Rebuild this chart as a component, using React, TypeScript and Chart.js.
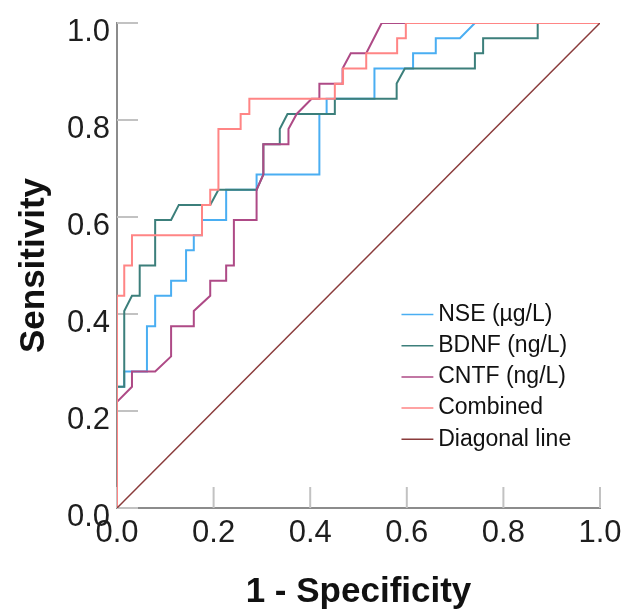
import React, { useEffect, useRef } from "react";
import { Chart, registerables } from "chart.js";

Chart.register(...registerables);

// ---- Data ----
const seriesNames = ["NSE (µg/L)", "BDNF (ng/L)", "CNTF (ng/L)", "Combined", "Diagonal line"];
const seriesColors = ["#4AAEF2", "#3C7F7B", "#AE4A86", "#FF8585", "#8A3B3B"];

const nseFpr = [0, 0, 0.015, 0.015, 0.062, 0.062, 0.079, 0.079, 0.112, 0.112, 0.143, 0.143, 0.159, 0.159, 0.176, 0.176, 0.226, 0.226, 0.289, 0.289, 0.419, 0.419, 0.434, 0.434, 0.533, 0.533, 0.613, 0.613, 0.66, 0.66, 0.71, 0.741, 1];
const nseTpr = [0, 0.25, 0.25, 0.28125, 0.28125, 0.375, 0.375, 0.4375, 0.4375, 0.46875, 0.46875, 0.53125, 0.53125, 0.5625, 0.5625, 0.59375, 0.59375, 0.65625, 0.65625, 0.6875, 0.6875, 0.8125, 0.8125, 0.84375, 0.84375, 0.90625, 0.90625, 0.9375, 0.9375, 0.96875, 0.96875, 1, 1];

const bdnfFpr = [0, 0, 0.015, 0.015, 0.031, 0.047, 0.047, 0.079, 0.079, 0.112, 0.128, 0.193, 0.21, 0.289, 0.303, 0.303, 0.337, 0.337, 0.353, 0.451, 0.451, 0.579, 0.579, 0.596, 0.741, 0.741, 0.758, 0.758, 0.871, 0.871, 1];
const bdnfTpr = [0, 0.25, 0.25, 0.40625, 0.4375, 0.4375, 0.5, 0.5, 0.59375, 0.59375, 0.625, 0.625, 0.65625, 0.65625, 0.6875, 0.75, 0.75, 0.78125, 0.8125, 0.8125, 0.84375, 0.84375, 0.875, 0.90625, 0.90625, 0.9375, 0.9375, 0.96875, 0.96875, 1, 1];

const cntfFpr = [0, 0, 0.031, 0.031, 0.079, 0.112, 0.112, 0.159, 0.159, 0.193, 0.193, 0.226, 0.226, 0.242, 0.242, 0.289, 0.289, 0.303, 0.303, 0.355, 0.355, 0.372, 0.403, 0.419, 0.419, 0.467, 0.467, 0.484, 0.516, 0.548, 1];
const cntfTpr = [0, 0.21875, 0.25, 0.28125, 0.28125, 0.3125, 0.375, 0.375, 0.40625, 0.4375, 0.46875, 0.46875, 0.5, 0.5, 0.59375, 0.59375, 0.65625, 0.6875, 0.75, 0.75, 0.78125, 0.8125, 0.84375, 0.84375, 0.875, 0.875, 0.90625, 0.9375, 0.9375, 1, 1];

const combFpr = [0, 0, 0.015, 0.015, 0.031, 0.031, 0.176, 0.176, 0.193, 0.193, 0.21, 0.21, 0.256, 0.256, 0.274, 0.274, 0.451, 0.451, 0.468, 0.468, 0.516, 0.516, 0.58, 0.58, 0.598, 0.598, 1];
const combTpr = [0, 0.4375, 0.4375, 0.5, 0.5, 0.5625, 0.5625, 0.625, 0.625, 0.65625, 0.65625, 0.78125, 0.78125, 0.8125, 0.8125, 0.84375, 0.84375, 0.875, 0.875, 0.90625, 0.90625, 0.9375, 0.9375, 0.96875, 0.96875, 1, 1];

const diagFpr = [0, 1];
const diagTpr = [0, 1];

const tickValues = [0, 0.2, 0.4, 0.6, 0.8, 1.0];
const xTitle = "1 - Specificity";
const yTitle = "Sensitivity";

const FONT = '"Liberation Sans", Arial, Helvetica, sans-serif';

const toPoints = (xs: number[], ys: number[]) => xs.map((x, i) => ({ x, y: ys[i] }));

const tickMarks = {
  id: "tickMarks",
  beforeDatasetsDraw(chart: any) {
    const { ctx, chartArea, scales } = chart;
    const x = scales.x;
    const y = scales.y;
    ctx.save();
    ctx.strokeStyle = "#c2c2c2";
    ctx.lineWidth = 2;
    tickValues.forEach((v) => {
      const px = x.getPixelForValue(v);
      ctx.beginPath();
      ctx.moveTo(px, chartArea.bottom);
      ctx.lineTo(px, chartArea.bottom - 21);
      ctx.stroke();
      const py = y.getPixelForValue(v);
      ctx.beginPath();
      ctx.moveTo(chartArea.left, py);
      ctx.lineTo(chartArea.left + 21, py);
      ctx.stroke();
    });
    ctx.restore();
  },
};

const customLegend = {
  id: "customLegend",
  afterDraw(chart: any) {
    const { ctx, scales } = chart;
    const x = scales.x;
    const y = scales.y;
    const lineX0 = x.getPixelForValue(0.589);
    const lineX1 = x.getPixelForValue(0.655);
    const textX = x.getPixelForValue(0.665);
    const y0 = y.getPixelForValue(0.399);
    const rowH = 31.2;
    ctx.save();
    ctx.font = `23px ${FONT}`;
    ctx.textBaseline = "middle";
    ctx.textAlign = "left";
    seriesNames.forEach((name, i) => {
      const py = y0 + i * rowH;
      ctx.strokeStyle = seriesColors[i];
      ctx.lineWidth = 1.5;
      ctx.beginPath();
      ctx.moveTo(lineX0, py);
      ctx.lineTo(lineX1, py);
      ctx.stroke();
      ctx.fillStyle = "#111111";
      ctx.fillText(name, textX, py);
    });
    ctx.restore();
  },
};

export default function App() {
  const canvasRef = useRef<HTMLCanvasElement | null>(null);

  useEffect(() => {
    if (!canvasRef.current) return;
    const series = [
      toPoints(nseFpr, nseTpr),
      toPoints(bdnfFpr, bdnfTpr),
      toPoints(cntfFpr, cntfTpr),
      toPoints(combFpr, combTpr),
      toPoints(diagFpr, diagTpr),
    ];
    const orders = [4, 3, 2, 1, 0];
    const chart = new Chart(canvasRef.current, {
      type: "line",
      data: {
        datasets: series.map((data, i) => ({
          label: seriesNames[i],
          data,
          borderColor: seriesColors[i],
          backgroundColor: seriesColors[i],
          borderWidth: i === 4 ? 1.5 : 2,
          pointRadius: 0,
          pointHoverRadius: 0,
          tension: 0,
          fill: false,
          order: orders[i],
        })),
      },
      options: {
        responsive: false,
        animation: false,
        layout: { padding: { left: 0, right: 23, top: 23, bottom: 0 } },
        plugins: {
          legend: { display: false },
          tooltip: { enabled: false },
        },
        scales: {
          x: {
            type: "linear",
            min: 0,
            max: 1,
            afterFit: (s: any) => {
              s.height = 102;
              s.paddingLeft = 0;
              s.paddingRight = 0;
            },
            afterBuildTicks: (s: any) => {
              s.ticks = tickValues.map((v) => ({ value: v }));
            },
            grid: { display: false, drawTicks: false },
            border: { display: true, color: "#8c8c8c", width: 2 },
            ticks: {
              font: { family: FONT, size: 31 },
              color: "#1e1e1e",
              padding: 7,
              maxRotation: 0,
              callback: (v: any) => Number(v).toFixed(1),
            },
            title: {
              display: true,
              text: xTitle,
              color: "#111111",
              font: { family: FONT, size: 35, weight: "bold", lineHeight: 1 },
              padding: { top: 0, bottom: 0 },
            },
          },
          y: {
            type: "linear",
            min: 0,
            max: 1,
            afterFit: (s: any) => {
              s.width = 117;
              s.paddingTop = 0;
              s.paddingBottom = 0;
            },
            afterBuildTicks: (s: any) => {
              s.ticks = tickValues.map((v) => ({ value: v }));
            },
            grid: { display: false, drawTicks: false },
            border: { display: true, color: "#8c8c8c", width: 2 },
            ticks: {
              font: { family: FONT, size: 31 },
              color: "#1e1e1e",
              padding: 7,
              labelOffset: 9,
              callback: (v: any) => Number(v).toFixed(1),
            },
            title: {
              display: true,
              text: yTitle,
              color: "#111111",
              font: { family: FONT, size: 35, weight: "bold", lineHeight: 1 },
              padding: { top: 17, bottom: 0 },
            },
          },
        },
      },
      plugins: [tickMarks, customLegend],
    } as any);
    return () => chart.destroy();
  }, []);

  return (
    <div style={{ position: "fixed", left: 0, top: 0, width: 623, height: 610, background: "#ffffff" }}>
      <canvas ref={canvasRef} width={623} height={610} style={{ display: "block" }} />
    </div>
  );
}
